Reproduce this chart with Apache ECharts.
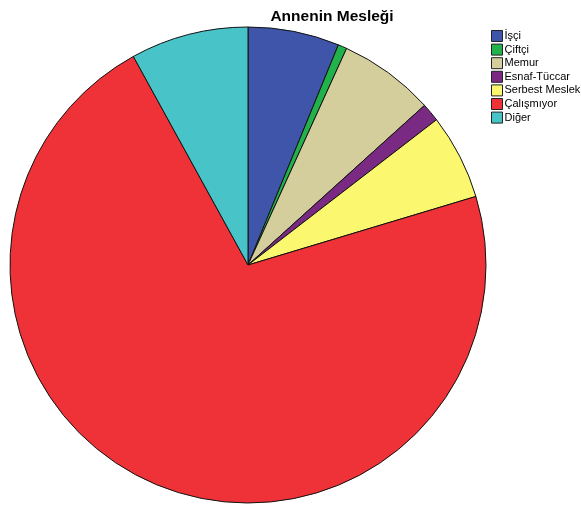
<!DOCTYPE html>
<html><head><meta charset="utf-8">
<script src="https://cdn.jsdelivr.net/npm/echarts@6/dist/echarts.min.js"></script>
<style>html,body{margin:0;padding:0;background:#fff}#c{width:581px;height:511px}</style>
</head><body><div id="c"></div>
<script>
const categories = ['İşçi','Çiftçi','Memur','Esnaf-Tüccar','Serbest Meslek','Çalışmıyor','Diğer'];
const values = [6.2, 0.6, 6.5, 1.25, 5.8, 71.65, 8.0];
const colors = ['#3E55AA','#22B24C','#D3CE9B','#7A2A82','#FBF76E','#EE3238','#48C3C7'];
const chart = echarts.init(document.getElementById('c'));
chart.setOption({
  animation: false,
  title: { text: 'Annenin Mesleği', left: 327, textAlign: 'center', top: 4,
    textStyle: { fontFamily: 'Liberation Sans, Arial', fontWeight: 'bold', fontSize: 15.5, color: '#000' } },
  legend: { orient: 'vertical', left: 491, top: 30, padding: 0, itemWidth: 11, itemHeight: 11, itemGap: 1.6,
    icon: 'rect', data: categories,
    textStyle: { fontFamily: 'Liberation Sans, Arial', fontSize: 11, color: '#000', padding: [0,0,0,-3] },
    itemStyle: { borderColor: '#222', borderWidth: 1 } },
  series: [{
    type: 'pie', center: [248, 265], radius: [0, 238], startAngle: 90, clockwise: true,
    label: { show: false }, labelLine: { show: false },
    itemStyle: { borderColor: '#111', borderWidth: 1 },
    emphasis: { disabled: true },
    data: categories.map((c, i) => ({ name: c, value: values[i], itemStyle: { color: colors[i] } }))
  }]
});
</script></body></html>
